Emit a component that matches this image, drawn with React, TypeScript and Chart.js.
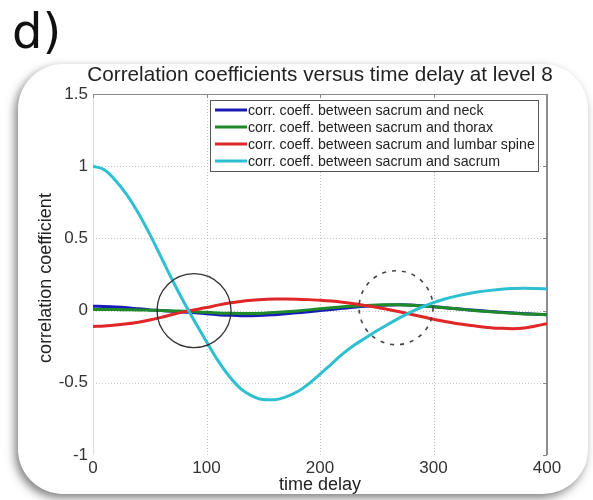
import React, { useEffect, useRef } from "react";
import { Chart, registerables } from "chart.js";

Chart.register(...registerables);

const PANEL_LABEL = "d)";
const TITLE = "Correlation coefficients versus time delay at level 8";
const X_TITLE = "time delay";
const Y_TITLE = "correlation coefficient";

const TIME = [0, 10, 20, 30, 40, 50, 60, 70, 80, 90, 100, 110, 120, 130, 140, 150, 160, 170, 180, 190, 200, 210, 220, 230, 240, 250, 260, 270, 280, 290, 300, 310, 320, 330, 340, 350, 360, 370, 380, 390, 400];

const NECK = [0.03, 0.028, 0.025, 0.02, 0.012, 0.005, 0, -0.005, -0.01, -0.015, -0.022, -0.028, -0.032, -0.035, -0.035, -0.033, -0.028, -0.022, -0.015, -0.008, 0, 0.008, 0.016, 0.024, 0.03, 0.035, 0.038, 0.04, 0.038, 0.033, 0.027, 0.02, 0.013, 0.006, 0, -0.006, -0.012, -0.017, -0.021, -0.025, -0.028];
const THORAX = [0.008, 0.008, 0.007, 0.006, 0.005, 0.003, 0.001, -0.002, -0.005, -0.008, -0.012, -0.016, -0.019, -0.02, -0.02, -0.018, -0.014, -0.008, -0.002, 0.005, 0.012, 0.019, 0.026, 0.032, 0.036, 0.039, 0.04, 0.04, 0.037, 0.032, 0.026, 0.019, 0.012, 0.005, -0.002, -0.008, -0.014, -0.019, -0.023, -0.026, -0.029];
const LUMBAR = [-0.11, -0.106, -0.1, -0.091, -0.08, -0.065, -0.047, -0.027, -0.009, 0.006, 0.021, 0.038, 0.052, 0.063, 0.071, 0.077, 0.08, 0.08, 0.079, 0.076, 0.072, 0.066, 0.058, 0.048, 0.036, 0.023, 0.008, -0.008, -0.025, -0.043, -0.06, -0.075, -0.089, -0.1, -0.11, -0.118, -0.123, -0.125, -0.12, -0.106, -0.09];
const SACRUM = [1, 0.975, 0.9, 0.8, 0.675, 0.53, 0.37, 0.21, 0.06, -0.08, -0.215, -0.345, -0.455, -0.54, -0.59, -0.615, -0.617, -0.597, -0.562, -0.507, -0.44, -0.37, -0.3, -0.24, -0.19, -0.14, -0.095, -0.05, -0.01, 0.025, 0.055, 0.08, 0.1, 0.117, 0.13, 0.14, 0.148, 0.153, 0.155, 0.153, 0.15];

const SERIES_NAMES = [
  "corr. coeff. between sacrum and neck",
  "corr. coeff. between sacrum and thorax",
  "corr. coeff. between sacrum and lumbar spine",
  "corr. coeff. between sacrum and sacrum",
];
const SERIES_VALUES = [NECK, THORAX, LUMBAR, SACRUM];
const SERIES_COLORS = ["#1a1ab8", "#1f8a2a", "#e02626", "#2ebfd1"];
const SERIES_ORDER = [3, 2, 1, 0];

const X_TICKS = [0, 100, 200, 300, 400];
const Y_TICKS = [-1, -0.5, 0, 0.5, 1, 1.5];
const GRID_X = [100, 200, 300];
const GRID_Y = [-0.5, 0, 0.5, 1];

// highlight circles: centre in data units
const SOLID_CIRCLE = { x: 89, y: 0 };
const DASHED_CIRCLE = { x: 267, y: 0.02 };

const FONT = "'Liberation Sans', Arial, sans-serif";

function roundRect(ctx: CanvasRenderingContext2D, x: number, y: number, w: number, h: number, r: number) {
  ctx.beginPath();
  ctx.moveTo(x + r, y);
  ctx.lineTo(x + w - r, y);
  ctx.arcTo(x + w, y, x + w, y + r, r);
  ctx.lineTo(x + w, y + h - r);
  ctx.arcTo(x + w, y + h, x + w - r, y + h, r);
  ctx.lineTo(x + r, y + h);
  ctx.arcTo(x, y + h, x, y + h - r, r);
  ctx.lineTo(x, y + r);
  ctx.arcTo(x, y, x + r, y, r);
  ctx.closePath();
}

const decorPlugin = {
  id: "decor",
  beforeDraw(chart: any) {
    const ctx: CanvasRenderingContext2D = chart.ctx;
    ctx.save();
    ctx.fillStyle = "#ffffff";
    ctx.fillRect(0, 0, chart.width, chart.height);
    // card
    ctx.save();
    ctx.shadowColor = "rgba(0,0,0,0.5)";
    ctx.shadowBlur = 10;
    ctx.shadowOffsetX = -3;
    ctx.shadowOffsetY = 4;
    roundRect(ctx, 18, 64, 570, 430, 45);
    ctx.fillStyle = "#ffffff";
    ctx.fill();
    ctx.restore();
    // panel label
    ctx.fillStyle = "#111";
    ctx.font = "48px 'DejaVu Sans', sans-serif";
    ctx.textAlign = "left";
    ctx.textBaseline = "alphabetic";
    ctx.fillText(PANEL_LABEL, 12, 48);
    // title
    ctx.font = `20.7px ${FONT}`;
    ctx.fillStyle = "#222";
    ctx.textAlign = "center";
    ctx.fillText(TITLE, 320, 81);
    // x title
    ctx.font = `18px ${FONT}`;
    ctx.fillText(X_TITLE, 320, 490);
    // y title
    ctx.save();
    ctx.translate(51, 278);
    ctx.rotate(-Math.PI / 2);
    ctx.font = `18px ${FONT}`;
    ctx.textAlign = "center";
    ctx.textBaseline = "alphabetic";
    ctx.fillText(Y_TITLE, 0, 0);
    ctx.restore();
    ctx.restore();
  },
  beforeDatasetsDraw(chart: any) {
    const ctx: CanvasRenderingContext2D = chart.ctx;
    const { left, right, top, bottom } = chart.chartArea;
    const xs = chart.scales.x;
    const ys = chart.scales.y;
    ctx.save();
    ctx.lineWidth = 1;
    ctx.strokeStyle = "#c4c4c4";
    ctx.setLineDash([1, 2]);
    for (const g of GRID_X) {
      const px = Math.round(xs.getPixelForValue(g)) + 0.5;
      ctx.beginPath();
      ctx.moveTo(px, top);
      ctx.lineTo(px, bottom);
      ctx.stroke();
    }
    for (const g of GRID_Y) {
      const py = Math.round(ys.getPixelForValue(g)) + 0.5;
      ctx.beginPath();
      ctx.moveTo(left, py);
      ctx.lineTo(right, py);
      ctx.stroke();
    }
    ctx.setLineDash([]);
    // frame
    ctx.strokeStyle = "#dcdcdc";
    ctx.beginPath();
    ctx.moveTo(Math.round(left) + 0.5, top);
    ctx.lineTo(Math.round(left) + 0.5, bottom);
    ctx.stroke();
    ctx.strokeStyle = "#8a8a8a";
    ctx.beginPath();
    ctx.moveTo(left, Math.round(top) + 0.5);
    ctx.lineTo(right, Math.round(top) + 0.5);
    ctx.stroke();
    ctx.strokeStyle = "#666";
    ctx.lineWidth = 1.5;
    ctx.beginPath();
    ctx.moveTo(Math.round(right), top);
    ctx.lineTo(Math.round(right), bottom);
    ctx.stroke();
    // inward ticks on top and right
    ctx.lineWidth = 1;
    ctx.strokeStyle = "#888";
    for (const t of X_TICKS) {
      const px = Math.round(xs.getPixelForValue(t)) + 0.5;
      ctx.beginPath();
      ctx.moveTo(px, top);
      ctx.lineTo(px, top + 4);
      ctx.stroke();
    }
    for (const t of Y_TICKS) {
      const py = Math.round(ys.getPixelForValue(t)) + 0.5;
      ctx.beginPath();
      ctx.moveTo(right, py);
      ctx.lineTo(right - 4, py);
      ctx.stroke();
    }
    ctx.restore();
  },
  afterDatasetsDraw(chart: any) {
    const ctx: CanvasRenderingContext2D = chart.ctx;
    const xs = chart.scales.x;
    const ys = chart.scales.y;
    ctx.save();
    // circles
    ctx.strokeStyle = "#333";
    ctx.lineWidth = 1.3;
    ctx.beginPath();
    ctx.arc(xs.getPixelForValue(SOLID_CIRCLE.x), ys.getPixelForValue(SOLID_CIRCLE.y), 37, 0, Math.PI * 2);
    ctx.stroke();
    ctx.strokeStyle = "#444";
    ctx.lineWidth = 1.6;
    ctx.setLineDash([4, 6]);
    ctx.beginPath();
    ctx.arc(xs.getPixelForValue(DASHED_CIRCLE.x), ys.getPixelForValue(DASHED_CIRCLE.y), 37, 0, Math.PI * 2);
    ctx.stroke();
    ctx.setLineDash([]);
    // legend
    const bx = 210, by = 100, bw = 328, bh = 71;
    ctx.fillStyle = "#fff";
    ctx.fillRect(bx, by, bw, bh);
    ctx.strokeStyle = "#555";
    ctx.lineWidth = 1;
    ctx.strokeRect(bx + 0.5, by + 0.5, bw, bh);
    ctx.font = `14.2px ${FONT}`;
    ctx.textAlign = "left";
    ctx.textBaseline = "middle";
    SERIES_NAMES.forEach((name, i) => {
      const y = by + 10 + i * 17;
      ctx.strokeStyle = SERIES_COLORS[i];
      ctx.lineWidth = 3;
      ctx.beginPath();
      ctx.moveTo(bx + 5, y);
      ctx.lineTo(bx + 37, y);
      ctx.stroke();
      ctx.fillStyle = "#222";
      ctx.fillText(name, bx + 38, y + 1);
    });
    ctx.restore();
  },
};

export default function App() {
  const canvasRef = useRef<HTMLCanvasElement | null>(null);

  useEffect(() => {
    if (!canvasRef.current) return;
    const datasets = SERIES_NAMES.map((name, i) => ({
      label: name,
      data: TIME.map((t, k) => ({ x: t, y: SERIES_VALUES[i][k] })),
      borderColor: SERIES_COLORS[i],
      backgroundColor: SERIES_COLORS[i],
      borderWidth: 3,
      pointRadius: 0,
      cubicInterpolationMode: "monotone" as const,
      fill: false,
      order: SERIES_ORDER[i],
    }));
    const chart = new Chart(canvasRef.current, {
      type: "line",
      data: { datasets },
      options: {
        animation: false,
        responsive: false,
        devicePixelRatio: 1,
        layout: { padding: { top: 94, right: 46, left: 0, bottom: 0 } },
        plugins: {
          legend: { display: false },
          title: { display: false },
          tooltip: { enabled: false },
        },
        scales: {
          x: {
            type: "linear",
            min: 0,
            max: 400,
            afterBuildTicks: (s: any) => {
              s.ticks = X_TICKS.map((v) => ({ value: v }));
            },
            ticks: {
              font: { family: FONT, size: 17 },
              color: "#333",
              padding: 3,
              maxRotation: 0,
            },
            grid: { display: false, drawTicks: false },
            border: { display: false },
            afterFit: (s: any) => {
              s.height = 45;
            },
          },
          y: {
            type: "linear",
            min: -1,
            max: 1.5,
            afterBuildTicks: (s: any) => {
              s.ticks = Y_TICKS.map((v) => ({ value: v }));
            },
            ticks: {
              font: { family: FONT, size: 17 },
              color: "#333",
              padding: 5,
              callback: (v: any) => String(v),
            },
            grid: { display: false, drawTicks: false },
            border: { display: false },
            afterFit: (s: any) => {
              s.width = 93;
            },
          },
        },
      },
      plugins: [decorPlugin],
    });
    return () => chart.destroy();
  }, []);

  return (
    <div style={{ position: "absolute", left: 0, top: 0, width: 593, height: 500 }}>
      <canvas ref={canvasRef} width={593} height={500} style={{ width: 593, height: 500, display: "block" }} />
    </div>
  );
}
